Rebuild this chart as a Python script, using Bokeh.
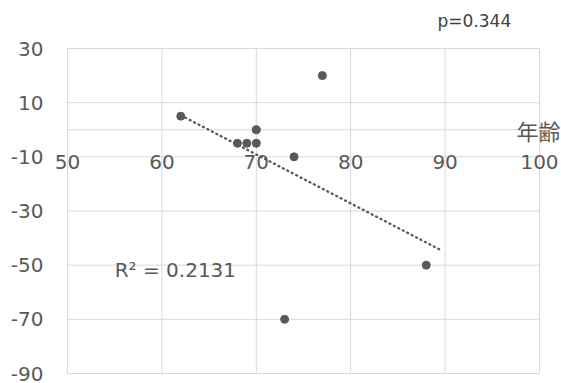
import numpy as np
from bokeh.plotting import figure
from bokeh.models import Range1d
from bokeh.embed import file_html
from bokeh.resources import INLINE

# data
age = [62, 68, 69, 70, 70, 74, 77, 73, 88]
change = [5, -5, -5, 0, -5, -10, 20, -70, -50]
x_ticks = [50, 60, 70, 80, 90, 100]
y_ticks = [30, 10, -10, -30, -50, -70, -90]
trend_x = [62, 89.6]
r2_text = "R² = 0.2131"
p_text = "p=0.344"
x_title = "年齢"

# layout (pixels)
W, H = 561, 383
FL, FR, FT, FB = 67, 539, 48, 373  # frame of the plotting area
X0, X1 = 50, 100
Y0, Y1 = -90, 30

FONT_NUM = "DejaVu Sans"
FONT_CJK = "Noto Sans CJK JP"
GRAY = "#595959"
GRID = "#d9d9d9"

sx = (X1 - X0) / (FR - FL)
sy = (Y1 - Y0) / (FB - FT)
p = figure(width=W, height=H,
           x_range=Range1d(X0 - FL * sx, X1 + (W - FR) * sx),
           y_range=Range1d(Y0 - (H - FB) * sy, Y1 + FT * sy),
           output_backend="svg", toolbar_location=None,
           x_axis_location=None, y_axis_location=None, min_border=0)
p.background_fill_color = "white"
p.border_fill_color = "white"
p.outline_line_color = None
p.grid.visible = False

# grid
p.segment(x0=x_ticks, x1=x_ticks, y0=[Y0] * len(x_ticks), y1=[Y1] * len(x_ticks),
          line_color=GRID, line_width=1)
hy = y_ticks + [0]
p.segment(x0=[X0] * len(hy), x1=[X1] * len(hy), y0=hy, y1=hy, line_color=GRID, line_width=1)

# y tick labels
p.text(x=[X0] * len(y_ticks), y=y_ticks, text=[str(v) for v in y_ticks], x_offset=-24,
       text_align="right", text_baseline="middle", text_font_size="20px",
       text_font={"value": FONT_NUM}, text_color=GRAY)
# x tick labels along y=0
p.text(x=x_ticks, y=[0] * len(x_ticks), text=[str(v) for v in x_ticks], y_offset=32,
       text_align="center", text_baseline="middle", text_font_size="20px",
       text_font={"value": FONT_NUM}, text_color=GRAY)

# trendline
coef = np.polyfit(age, change, 1)
tx = np.array(trend_x)
ty = np.polyval(coef, tx)
p.line(tx, ty, line_dash="1 4", line_width=2.3, line_cap="round", color=GRAY)

p.scatter(age, change, size=8, color=GRAY)

p.text(x=[X1], y=[0], text=[x_title], x_offset=-23, text_align="left", text_baseline="middle",
       text_font={"value": FONT_CJK}, text_font_size="22px", text_color=GRAY)
p.text(x=[55], y=[-51.6], text=[r2_text], text_align="left", text_baseline="middle",
       text_font={"value": FONT_NUM}, text_font_size="20px", text_color=GRAY)
p.text(x=[89.2], y=[40], text=[p_text], text_align="left", text_baseline="middle",
       text_font={"value": FONT_NUM}, text_font_size="17px", text_color="#404040")

open("out.html", "w").write(file_html(p, INLINE))
